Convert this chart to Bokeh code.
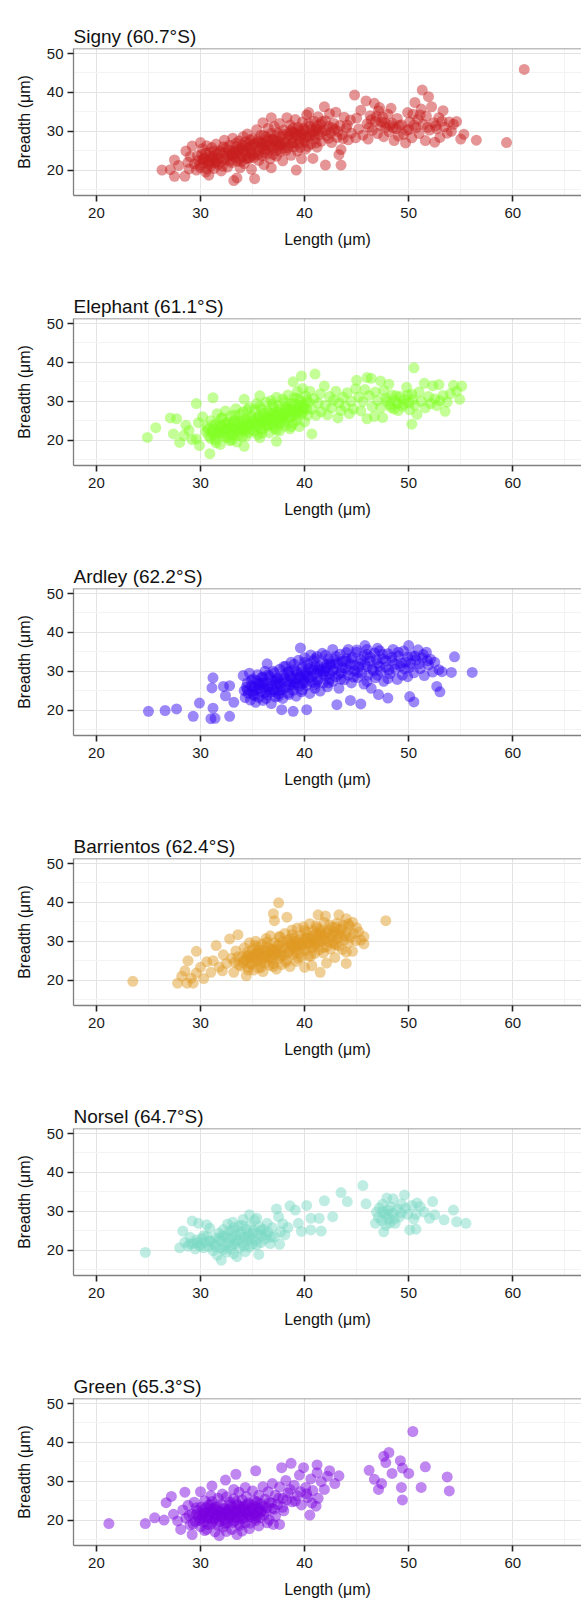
from bokeh.plotting import figure
from bokeh.layouts import column
from bokeh.models import FixedTicker, Span, ColumnDataSource, Title
from bokeh.embed import file_html
from bokeh.resources import INLINE

# ---------------- data (length, breadth) in micrometres ----------------
site_titles = ["Signy (60.7°S)", "Elephant (61.1°S)", "Ardley (62.2°S)",
               "Barrientos (62.4°S)", "Norsel (64.7°S)", "Green (65.3°S)"]
site_colors = ["#C81E1E", "#80FF20", "#2C00F2", "#E09A22", "#7AD8C4", "#7A00E0"]

x_ticks = [20, 30, 40, 50, 60]
x_minor = [15, 25, 35, 45, 55, 65]
y_ticks = [20, 30, 40, 50]
y_minor = [15, 25, 35, 45]

signy = [
    (26.3,20.0),(27.1,20.1),(27.5,22.6),(27.5,18.4),(27.9,21.2),(28.5,18.4),(28.6,24.9),(28.8,22.0),(28.9,20.3),(29.2,26.2),(29.0,23.5),(29.4,21.6),
    (29.6,20.0),(29.8,22.5),(30.0,27.1),(30.0,20.6),(30.1,24.0),(30.2,25.5),(30.3,21.8),(30.4,23.1),(30.5,19.5),(30.6,26.3),(30.7,22.4),(30.8,18.7),
    (30.9,24.6),(31.0,21.0),(31.1,25.8),(31.2,23.5),(31.3,20.4),(31.4,22.8),(31.5,26.7),(31.6,24.2),(31.7,21.5),(31.8,23.0),(31.9,25.1),(32.0,22.1),(32.0,19.8),
    (29.9,21.2),(30.3,22.9),(30.6,20.3),(31.0,23.6),(31.4,21.9),(29.7,23.7),(30.9,22.0),
    (32.2,24.5),(32.3,27.7),(32.4,22.6),(32.5,25.8),(32.6,20.8),(32.7,23.6),(32.8,26.4),(32.9,24.0),(33.0,21.9),(33.1,28.2),(33.2,17.3),(33.2,25.0),
    (33.3,23.1),(33.4,26.9),(33.5,18.0),(33.5,22.3),(33.6,24.7),(33.7,27.5),(33.8,20.6),(33.9,25.6),(34.0,23.4),(34.1,28.6),(34.2,21.7),(34.3,26.1),
    (34.4,24.2),(34.5,29.3),(34.6,22.9),(34.7,27.0),(34.8,25.3),(34.9,20.2),(35.0,28.1),(35.0,23.8),
    (33.1,23.9),(33.6,25.2),(34.0,26.5),(34.4,23.0),(34.8,27.8),(33.4,24.3),(34.2,25.1),(34.9,26.2),
    (35.1,26.6),(35.2,17.8),(35.3,24.6),(35.4,30.4),(35.5,27.8),(35.6,22.5),(35.7,25.9),(35.8,29.0),(35.9,23.7),(36.0,32.2),(36.0,27.0),(36.1,21.4),
    (36.2,25.2),(36.3,28.5),(36.4,24.1),(36.5,30.8),(36.6,26.6),(36.7,22.9),(36.8,33.5),(36.8,20.6),(36.9,28.0),(37.0,25.6),(37.1,31.2),(37.2,27.3),
    (37.3,23.6),(37.4,29.6),(37.5,26.1),(37.6,32.0),(37.7,24.8),(37.8,28.7),(37.9,22.4),(38.0,30.3),
    (35.6,27.3),(36.1,28.9),(36.6,25.4),(37.0,27.9),(37.4,26.6),(37.8,27.0),(35.9,26.1),(36.8,29.4),
    (38.1,27.2),(38.2,25.0),(38.3,33.5),(38.4,29.3),(38.5,26.4),(38.6,31.6),(38.7,23.8),(38.8,28.4),(38.9,30.9),(39.0,26.0),(39.1,33.0),(39.2,20.0),
    (39.2,28.9),(39.3,24.9),(39.4,31.0),(39.5,27.4),(39.6,29.8),(39.7,22.9),(39.8,32.4),(39.9,27.9),(40.0,30.2),(40.1,25.4),(40.2,34.2),(40.3,28.6),
    (40.4,34.8),(40.5,31.3),(40.6,26.7),(40.7,29.5),(40.8,23.0),(40.9,32.6),(41.0,28.0),(41.1,30.7),(41.2,25.9),(41.3,33.7),(41.4,29.1),(41.5,31.8),
    (38.5,28.8),(39.0,29.6),(39.5,30.4),(40.0,27.2),(40.5,28.9),(41.0,30.0),(38.8,26.9),(39.8,29.3),
    (41.6,27.4),(41.7,30.0),(41.9,36.3),(42.0,21.3),(42.0,32.7),(42.1,28.8),(42.3,31.2),(42.4,34.5),(42.5,29.6),(42.6,27.1),(42.8,32.0),(42.9,30.4),
    (43.0,34.9),(43.1,28.4),(43.3,24.0),(43.4,31.5),(43.5,21.3),(43.5,25.3),(43.6,29.1),(43.8,33.6),(44.0,30.8),(44.2,27.8),(44.4,32.9),(44.5,29.5),
    (44.8,39.3),(44.9,28.3),(45.0,33.4),(45.2,30.6),(45.4,35.4),(45.6,29.0),(45.9,37.8),(46.0,31.9),(46.1,28.0),(46.3,34.0),(46.5,30.2),(46.7,37.2),
    (46.8,32.6),(47.0,29.4),(47.1,35.3),(47.2,36.1),(47.3,31.4),(47.5,33.6),(47.6,28.6),(47.8,31.0),(48.0,34.4),(48.1,29.9),(48.3,35.9),(48.4,32.1),
    (48.6,27.6),(48.8,30.7),(48.9,33.3),(49.0,28.8),(46.4,33.0),(47.4,32.4),(48.2,31.5),
    (49.3,31.7),(49.5,29.2),(49.7,27.0),(49.9,34.8),(50.0,30.5),(50.1,32.4),(50.3,28.3),(50.4,34.4),(50.6,37.4),(50.7,30.9),(50.9,33.1),(51.0,29.4),
    (51.2,35.7),(51.3,40.6),(51.4,31.8),(51.6,27.6),(51.7,33.9),(51.9,38.9),(52.0,30.3),(52.2,36.3),(52.4,32.2),(52.5,27.2),(52.7,30.6),(52.9,33.5),
    (53.0,28.4),(53.3,35.3),(53.4,31.1),(53.7,29.5),(53.9,32.4),(54.1,30.0),(54.3,31.8),(54.6,32.5),(55.0,28.0),(55.3,29.2),(56.5,27.7),(59.4,27.1),(61.1,45.9),
] + [
    (30.2,22.7),(30.5,24.4),(30.8,21.5),(31.1,23.0),(31.5,22.1),(31.9,24.6),(32.1,21.0),(32.4,23.3),(32.7,25.2),(32.9,22.4),(33.2,24.6),(33.5,26.1),
    (33.8,23.0),(34.1,24.8),(34.3,27.3),(34.6,25.7),(34.9,24.4),(35.1,23.2),(35.3,27.0),(35.6,25.0),(35.8,26.9),(36.1,24.6),(36.3,26.4),(36.5,28.0),
    (36.8,26.1),(37.0,24.0),(37.2,28.8),(37.5,27.4),(37.7,26.4),(37.9,29.3),(38.2,27.9),(38.4,25.8),(38.7,30.2),(38.9,27.1),(39.1,29.2),(39.4,26.8),
    (39.6,28.4),(39.9,30.8),(40.1,28.5),(40.3,26.1),(40.6,30.4),(40.9,29.0),(41.1,27.0),(41.4,30.3),(41.7,32.5),(42.0,30.2),(42.3,28.2),(42.7,30.9),
    (43.2,30.0),(43.7,28.1),(44.1,31.6),(46.2,31.0),(46.9,33.8),(47.7,32.2),(48.5,30.9),(49.1,31.5),(49.8,30.2),(50.5,31.6),(51.1,34.2),(51.8,31.0),
    (52.6,31.4),(53.2,32.6),(31.3,24.9),(32.2,26.0),(33.0,23.8),(33.9,22.2),(34.7,23.2),(35.5,23.9),(36.4,27.4),(37.3,25.0),(38.0,25.6),(38.8,29.8),
    (39.6,25.8),(40.4,32.1),(41.2,31.4),
]

elephant = [
    (24.9,20.7),(25.7,23.2),(27.1,25.7),(27.7,25.5),(27.4,21.6),(28.0,19.4),(28.4,21.2),(28.6,23.8),(28.9,22.5),(29.2,20.1),(29.6,29.4),(29.6,20.3),
    (29.9,18.6),(29.8,24.5),(30.2,26.0),(30.5,22.2),
    (30.6,23.5),(30.8,21.0),(30.9,16.5),(31.0,25.0),(31.2,30.9),(31.2,22.6),(31.4,20.0),(31.5,24.2),(31.6,26.8),(31.8,21.8),(31.9,18.9),(32.0,23.4),
    (32.1,25.7),(32.3,20.9),(32.4,27.5),(32.5,22.7),(32.6,24.6),(32.8,19.9),(32.9,26.2),(33.0,23.0),(33.1,21.4),(33.3,25.1),(33.4,28.1),(33.5,19.5),
    (33.5,23.8),(33.7,22.2),(33.8,26.7),(33.9,24.4),(34.0,20.9),(34.1,27.3),(34.2,30.5),(34.2,18.4),(34.3,23.1),(34.4,25.5),(34.6,21.9),(34.7,28.4),
    (34.8,24.0),(34.9,26.3),(35.0,22.6),
    (31.1,22.0),(31.7,23.1),(32.2,22.0),(32.7,23.9),(33.2,22.6),(33.6,24.9),(34.1,22.7),(34.5,24.7),(31.3,23.9),(32.4,24.3),(33.0,21.5),(34.0,23.7),
    (35.1,25.0),(35.2,27.8),(35.3,23.5),(35.4,29.4),(35.5,21.4),(35.6,26.2),(35.7,20.6),(35.7,31.4),(35.8,24.3),(35.9,28.0),(36.0,22.8),(36.1,26.9),
    (36.2,25.2),(36.3,29.8),(36.4,23.7),(36.5,27.4),(36.6,21.9),(36.7,25.8),(36.8,30.2),(36.9,24.5),(37.0,28.5),(37.1,23.0),(37.2,26.6),(37.3,19.7),
    (37.3,31.0),(37.4,25.4),(37.5,28.9),(37.6,22.4),(37.7,27.0),(37.8,24.9),(37.9,30.6),(38.0,26.2),(38.1,23.6),(38.2,28.3),(38.3,25.6),(38.4,31.6),
    (38.5,27.5),(38.6,22.9),(38.7,29.4),(38.8,26.0),(38.9,35.0),(38.9,24.3),(39.0,30.9),(39.1,27.8),(39.2,25.1),(39.3,32.5),(39.4,28.6),(39.5,23.5),
    (39.6,30.1),(39.7,36.5),(39.7,26.7),(39.8,33.3),(39.9,29.1),(40.0,24.7),(40.1,31.4),(40.2,27.9),
    (35.5,25.8),(36.0,24.6),(36.4,26.0),(36.9,26.7),(37.4,27.3),(37.9,25.8),(38.3,27.9),(38.8,28.0),(39.3,27.0),(39.8,28.0),(36.6,23.9),(37.6,24.1),
    (40.4,29.8),(40.5,32.6),(40.7,21.6),(40.7,28.0),(40.9,30.7),(41.0,37.0),(41.1,26.4),(41.3,29.5),(41.5,31.9),(41.6,27.3),(41.9,33.9),(42.0,29.0),
    (42.2,26.5),(42.4,31.2),(42.6,28.3),(42.8,30.3),(43.0,32.6),(43.2,25.7),(43.3,29.6),(43.5,27.6),(43.7,31.0),(43.9,28.7),(44.1,32.2),(44.3,26.8),
    (44.5,30.0),(44.7,28.0),(44.9,33.2),
    (45.0,35.4),(45.2,31.1),(45.4,27.5),(45.6,29.9),(45.8,33.0),(46.0,36.1),(46.0,25.5),(46.2,31.5),(46.4,35.9),(46.5,28.6),(46.7,26.1),(46.8,32.4),
    (47.0,30.2),(47.3,35.2),(47.3,28.3),(47.5,25.8),(47.6,32.7),(47.8,30.8),(48.1,34.4),(48.2,29.1),(48.4,31.6),(48.6,28.0),(48.7,30.2),(48.9,29.4),
    (49.0,27.6),(49.2,31.2),(49.4,28.7),(49.6,30.4),(49.8,33.6),(50.0,29.6),
    (50.1,27.8),(50.3,24.1),(50.3,31.8),(50.5,38.6),(50.6,29.0),(50.8,26.6),(51.0,32.4),(51.2,30.0),(51.5,34.6),(51.6,28.3),(51.9,31.2),(52.1,29.4),
    (52.3,34.0),(52.5,30.6),(52.7,28.9),(52.9,34.3),(53.0,30.1),(53.3,31.5),(53.5,27.4),(53.7,29.8),(54.0,31.9),(54.3,34.1),(54.6,32.6),(54.9,30.5),(55.1,33.9),
] + [
    (30.7,22.8),(31.0,20.4),(31.3,21.2),(31.6,22.0),(31.9,23.9),(32.1,21.5),(32.4,22.9),(32.6,20.6),(32.9,23.3),(33.1,24.6),(33.4,22.1),(33.6,21.2),
    (33.9,23.2),(34.1,25.0),(34.3,22.4),(34.6,23.5),(34.8,25.6),(35.0,23.9),(35.2,22.3),(35.4,24.4),(35.6,25.4),(35.8,23.0),(36.0,26.0),(36.2,24.0),
    (36.4,25.0),(36.6,27.0),(36.8,25.6),(37.0,23.8),(37.2,25.0),(37.4,26.4),(37.6,27.9),(37.8,26.2),(38.0,24.6),(38.2,26.9),(38.4,28.6),(38.6,25.9),
    (38.8,27.3),(39.0,29.4),(39.2,26.3),(39.4,27.4),(39.6,29.0),(39.8,27.2),(40.0,28.5),(40.2,30.2),(32.0,25.6),(33.3,26.4),(34.5,27.8),(35.7,28.6),
    (36.9,29.2),(38.1,29.8),(39.3,30.8),(31.5,19.3),(33.0,20.0),(34.4,21.0),(35.9,21.8),(37.3,22.6),(38.7,23.5),(40.3,26.4),(47.9,30.0),(48.8,31.4),
    (49.5,29.3),(50.4,30.4),(48.3,28.4),(49.9,31.6),
]

ardley = [
    (25.0,19.7),(26.6,19.9),(27.7,20.3),(29.3,18.4),(29.9,21.8),(31.0,17.8),(31.4,17.9),(31.2,20.5),(32.8,18.4),(33.2,22.0),(31.2,28.3),(31.1,25.7),
    (32.2,26.1),(32.4,23.7),(32.8,26.3),
    (34.1,28.9),(34.2,25.0),(34.3,23.2),(34.5,27.0),(34.6,24.3),(34.7,29.5),(34.8,22.6),(34.9,26.2),(35.0,28.0),(35.1,24.0),(35.2,25.9),(35.3,22.0),
    (35.4,27.6),(35.5,29.1),(35.6,23.3),(35.7,26.5),(35.8,24.8),(35.9,28.4),(36.0,22.5),(36.1,25.7),(36.2,30.0),(36.3,27.2),(36.4,31.9),(36.4,23.9),
    (36.5,26.0),(36.6,28.7),(36.7,24.6),(36.8,21.7),(36.9,27.7),(37.0,25.3),(37.1,29.6),(37.2,23.4),(37.3,26.8),(37.4,28.2),(37.5,24.2),(37.6,30.5),
    (37.7,26.1),(37.8,20.1),(37.8,27.9),(37.9,23.0),(38.0,29.0),
    (34.4,25.9),(35.0,24.9),(35.5,26.8),(36.0,26.9),(36.6,25.4),(37.2,27.4),(37.6,25.1),(35.3,25.1),
    (38.1,25.7),(38.2,31.3),(38.3,27.3),(38.4,24.4),(38.5,29.8),(38.6,26.6),(38.7,32.3),(38.8,28.1),(38.9,19.7),(38.9,25.1),(39.0,30.4),(39.1,27.0),
    (39.2,23.6),(39.3,29.2),(39.4,32.8),(39.5,26.2),(39.6,36.0),(39.6,28.6),(39.7,24.7),(39.8,31.0),(39.9,27.6),(40.0,33.5),(40.1,29.7),(40.2,20.1),
    (40.2,26.4),(40.3,31.8),(40.4,28.3),(40.5,24.3),(40.6,34.2),(40.7,30.1),(40.8,27.1),(40.9,32.7),(41.0,25.6),(41.1,29.4),(41.2,33.8),(41.3,27.9),
    (41.4,31.2),(41.5,24.9),(41.6,29.9),(41.7,34.6),(41.8,27.0),(41.9,32.0),(42.0,28.8),(42.1,30.9),(42.2,26.0),(42.3,33.2),(42.4,29.3),(42.5,31.6),
    (42.7,35.6),(42.7,27.4),(42.8,30.4),(42.9,33.0),(43.1,21.4),(43.0,28.6),
    (38.6,28.9),(39.2,28.0),(39.7,29.9),(40.3,28.9),(40.8,30.6),(41.3,30.3),(41.9,30.0),(42.4,31.9),(39.0,26.5),(40.0,27.1),
    (43.2,31.9),(43.3,25.6),(43.4,34.4),(43.5,29.6),(43.6,32.5),(43.8,27.8),(43.9,30.7),(44.0,34.8),(44.2,35.6),(44.2,29.0),(44.4,22.5),(44.4,31.8),
    (44.5,27.0),(44.6,33.6),(44.8,30.2),(45.0,34.9),(45.1,28.4),(45.2,31.1),(45.4,21.6),(45.4,33.0),(45.5,29.5),(45.7,26.7),(45.8,36.6),(45.8,31.7),
    (46.0,34.3),(46.1,29.0),(46.3,32.6),(46.4,25.6),(46.5,30.6),(46.7,34.7),(46.8,28.3),(47.0,32.0),(47.1,24.0),(47.2,35.3),(47.3,30.0),(47.5,33.2),
    (47.6,27.4),(47.8,31.0),(48.0,23.1),(48.0,34.5),
    (48.2,29.4),(48.4,32.8),(48.5,35.6),(48.7,30.5),(48.9,27.9),(49.0,33.9),(49.2,31.3),(49.4,29.0),(49.5,35.2),(49.7,32.4),(49.9,28.6),(50.0,36.6),
    (50.1,23.5),(50.1,31.0),(50.3,34.0),(50.5,22.1),(50.5,29.6),(50.7,32.9),(50.9,35.5),(51.1,30.7),(51.3,33.4),(51.5,28.9),(51.7,34.9),(51.9,31.6),
    (52.1,33.1),(52.3,29.8),(52.5,32.3),(52.7,26.1),(52.9,30.4),(53.0,24.7),(53.2,29.9),(54.1,29.7),(54.4,33.7),(56.1,29.7),
] + [
    (34.5,25.2),(34.9,27.6),(35.2,23.7),(35.6,25.6),(35.9,27.1),(36.2,24.4),(36.5,29.1),(36.8,26.3),(37.1,24.8),(37.3,27.9),(37.6,26.9),(37.9,25.4),
    (38.1,28.3),(38.4,29.9),(38.7,27.3),(38.9,26.2),(39.2,30.0),(39.5,28.4),(39.8,26.9),(40.1,29.0),(40.4,30.7),(40.7,28.6),(41.0,31.4),(41.2,27.4),
    (41.5,30.5),(41.8,29.3),(42.1,31.7),(42.4,28.0),(42.7,30.1),(43.0,32.0),(43.3,29.2),(43.6,30.9),(43.9,32.6),(44.2,30.4),(44.5,33.1),(44.8,31.5),
    (45.1,29.7),(45.4,32.1),(45.7,34.0),(46.0,31.2),(46.3,33.6),(46.6,30.1),(46.9,33.0),(47.2,31.3),(47.5,34.4),(47.8,32.7),(48.1,30.4),(48.4,33.6),
    (48.7,31.8),(49.0,34.9),(49.3,32.1),(49.6,30.6),(49.9,33.7),(50.2,32.0),(50.6,33.9),(51.0,31.9),(51.4,34.3),(51.8,32.7),(36.0,28.5),(37.0,30.0),
    (38.0,31.2),(39.0,31.8),(40.0,32.3),(41.0,33.2),(42.0,34.1),(43.0,33.8),(44.0,33.2),(45.0,35.5),(46.0,35.6),(47.0,35.9),(36.3,23.0),(37.5,23.6),
    (38.5,24.0),(39.8,25.2),(41.0,26.6),(42.3,27.0),(43.5,28.0),(44.7,28.5),(46.0,27.4),(47.0,29.0),(48.0,28.1),
]

barrientos = [
    (23.5,19.7),(27.8,19.2),(28.7,19.2),(29.3,19.2),(28.5,22.4),(28.2,21.0),(28.8,25.0),(29.1,20.5),(29.6,27.4),(29.6,21.8),(30.0,23.3),(30.3,20.4),
    (30.6,24.7),(31.0,22.0),(31.5,28.9),(31.2,25.0),(31.8,23.4),(32.1,22.4),(32.2,26.5),(32.5,24.3),(32.8,30.6),(33.2,22.0),(33.0,25.6),(33.4,27.5),
    (33.6,31.7),(33.7,23.9),
    (34.0,26.0),(34.1,24.5),(34.2,28.3),(34.4,21.1),(34.4,25.4),(34.5,27.2),(34.6,23.3),(34.7,29.6),(34.8,25.9),(34.9,24.1),(35.0,27.9),(35.1,22.6),
    (35.2,26.6),(35.3,30.0),(35.4,24.8),(35.5,28.5),(35.6,23.1),(35.7,26.9),(35.8,25.3),(35.9,29.3),(36.0,22.2),(36.0,27.6),(36.2,24.5),(36.3,30.7),
    (36.4,26.3),(36.5,28.4),(36.6,23.8),(36.7,31.4),(36.8,25.7),(36.9,27.8),(37.0,37.1),(37.0,24.2),(37.1,35.3),(37.1,29.6),(37.2,26.7),(37.3,22.8),
    (37.4,28.9),(37.5,39.9),(37.5,25.5),(37.6,31.0),(37.7,27.2),(37.8,24.0),(37.9,29.9),(38.0,26.4),
    (34.6,26.4),(35.1,25.6),(35.6,27.6),(36.1,25.9),(36.6,27.0),(37.1,27.8),(37.6,26.4),(35.4,26.9),(36.3,28.7),
    (38.1,32.0),(38.2,28.3),(38.3,36.2),(38.3,25.1),(38.4,30.3),(38.5,27.4),(38.6,23.5),(38.7,29.1),(38.8,32.9),(38.9,26.6),(39.0,30.8),(39.1,28.0),
    (39.2,24.8),(39.3,33.4),(39.4,29.7),(39.5,27.0),(39.6,31.5),(39.7,25.9),(39.8,28.8),(39.9,33.7),(40.0,23.3),(40.0,30.3),(40.1,27.6),(40.2,32.3),
    (40.3,29.2),(40.4,26.2),(40.5,34.5),(40.6,30.9),(40.7,23.7),(40.7,28.4),(40.8,32.7),(40.9,30.0),(41.0,26.9),(41.1,34.0),(41.2,29.5),(41.3,36.8),
    (41.3,31.6),(41.4,27.8),(41.5,22.0),(41.5,33.0),(41.6,29.9),(41.7,31.3),(41.8,27.0),(41.9,34.8),(42.0,36.5),(42.0,30.6),(42.1,24.4),(42.1,28.6),
    (38.6,30.6),(39.1,29.3),(39.6,29.0),(40.1,30.9),(40.6,29.6),(41.1,31.9),(41.6,32.4),(38.9,28.4),
    (42.2,32.4),(42.3,30.0),(42.4,34.2),(42.5,28.0),(42.6,31.5),(42.7,33.6),(42.8,29.4),(42.9,25.8),(43.0,32.0),(43.1,34.6),(43.2,30.6),(43.3,36.8),
    (43.3,28.8),(43.4,33.0),(43.5,31.3),(43.6,27.9),(43.7,34.2),(43.8,30.3),(44.0,35.8),(44.0,27.2),(44.0,24.3),(44.1,32.3),(44.2,29.6),(44.3,33.9),
    (44.4,31.0),(44.6,34.9),(44.6,27.4),(44.7,32.0),(44.9,30.1),(45.0,33.5),(45.2,32.4),(45.4,30.3),(45.7,31.2),(45.7,29.3),(47.8,35.3),
] + [
    (33.3,24.6),(33.6,26.0),(33.9,23.6),(34.2,25.1),(34.5,26.2),(34.8,24.3),(35.0,26.3),(35.3,25.4),(35.5,27.2),(35.8,24.6),(36.0,26.0),(36.3,27.2),
    (36.5,25.6),(36.8,28.0),(37.0,26.6),(37.3,27.8),(37.5,29.1),(37.8,26.3),(38.0,28.4),(38.3,29.4),(38.5,27.0),(38.8,28.8),(39.0,30.0),(39.3,28.6),
    (39.5,30.5),(39.8,29.5),(40.0,28.0),(40.3,30.9),(40.5,29.9),(40.8,31.4),(41.0,29.2),(41.3,30.5),(41.5,32.1),(41.8,30.2),(42.0,31.9),(42.3,32.9),
    (42.5,30.8),(42.8,32.4),(43.0,33.6),(43.3,31.8),(43.6,33.2),(43.9,31.4),(44.2,34.5),(35.2,28.9),(36.4,29.8),(37.6,31.3),(38.8,31.7),(40.0,32.8),
    (41.2,33.5),(34.6,22.6),(35.8,23.3),(37.0,23.5),(38.2,24.6),(39.4,25.6),(40.6,26.2),(41.8,28.4),(43.0,29.1),(36.9,25.2),(39.1,27.2),(40.9,28.4),
    (42.7,29.8),
]

norsel = [
    (24.7,19.4),(28.0,20.6),(28.3,24.9),(28.5,22.0),(28.8,21.0),(29.0,23.3),(29.2,27.5),(29.3,21.7),(29.5,20.3),(29.6,22.6),(29.8,26.9),(29.9,21.3),
    (30.1,22.9),(30.3,20.6),(30.4,21.9),(30.6,26.5),(30.6,23.6),(30.8,20.9),(30.9,25.6),(31.0,22.3),(31.2,19.9),(31.3,21.5),(31.5,23.2),(31.6,18.7),
    (31.8,24.4),(31.9,20.6),(32.0,17.4),(32.0,22.4),(32.2,25.3),(32.3,21.0),(32.4,23.7),(32.5,19.5),(32.6,26.7),(32.7,22.0),(32.8,24.9),(32.9,20.3),
    (33.0,23.1),(33.1,27.2),(33.2,19.1),(33.2,25.8),(33.3,21.6),(33.4,23.9),(33.5,18.3),(33.6,22.6),(33.7,26.3),(33.8,20.6),(33.9,24.7),(34.0,21.9),
    (34.1,27.9),(34.2,23.3),(34.3,19.6),(34.4,25.4),(34.5,22.4),(34.6,24.2),(34.7,29.1),(34.7,20.8),(34.8,26.4),(34.9,23.0),(35.0,21.5),(35.1,25.1),
    (35.2,27.7),(35.3,22.5),(35.4,28.2),(35.5,24.1),(35.6,18.9),(35.7,26.0),(35.8,21.9),(35.9,23.6),(36.0,25.4),(36.2,22.8),(36.4,26.9),(36.5,24.6),
    (36.7,21.7),(36.9,25.8),(37.1,23.4),(37.3,30.6),(37.5,28.6),(37.6,21.5),(37.7,24.7),(37.9,26.8),(38.1,23.9),(38.4,25.8),(38.6,31.4),(39.1,30.3),
    (39.4,26.9),(39.7,24.8),(40.2,31.5),(40.6,28.2),(40.6,25.2),(41.4,28.2),(41.6,24.9),(41.9,32.7),(42.7,28.6),(43.5,34.8),(44.1,32.5),(45.6,36.6),(45.9,31.9),
    (46.8,26.9),(46.9,29.8),(47.1,28.4),(47.2,30.9),(47.4,27.6),(47.5,31.8),(47.6,24.7),(47.7,29.2),(47.8,26.4),(47.9,33.4),(48.0,30.3),(48.1,28.0),
    (48.2,27.0),(48.3,31.1),(48.5,33.2),(48.5,29.5),(48.7,26.9),(48.9,30.6),(49.1,28.5),(49.3,31.9),(49.6,34.2),(49.7,30.8),(49.9,29.2),(50.1,25.2),
    (50.3,31.5),(50.5,28.0),(50.7,25.4),(50.7,29.2),(50.8,32.1),(51.1,31.2),(51.5,29.8),(52.0,28.2),(52.3,32.5),(52.5,29.1),(53.4,27.8),(54.3,30.3),
    (54.6,27.3),(55.5,26.9),
] + [
    (29.0,21.6),(29.7,21.9),(30.3,23.7),(30.9,22.4),(31.4,20.9),(31.8,22.9),(32.2,20.1),(32.6,23.1),(33.0,21.2),(33.4,22.4),(33.8,24.0),(34.2,21.1),
    (34.6,23.6),(35.0,24.3),(35.4,21.4),(35.8,25.0),(36.3,24.0),(36.8,23.3),(33.1,24.9),(34.0,26.4),(32.1,23.6),(30.0,21.0),(48.0,29.2),(48.6,28.0),
    (47.5,29.9),(49.3,29.6),
]

green = [
    (21.2,19.1),(24.7,19.1),(25.6,20.6),(26.5,20.0),(26.7,24.5),(27.2,26.1),(27.4,21.5),(27.8,19.8),(28.1,17.6),(28.3,22.6),(28.5,27.2),(28.6,20.5),
    (28.8,23.8),(29.0,18.8),(29.2,16.3),(29.2,21.6),(29.4,24.6),(29.5,19.7),(29.7,22.5),(29.8,20.8),(30.0,27.3),(30.0,18.3),(30.1,23.4),(30.2,21.2),
    (30.3,19.5),(30.4,25.0),(30.5,22.0),(30.6,17.6),(30.7,20.4),(30.8,23.9),(30.9,21.5),(31.0,19.0),(31.1,28.8),(31.1,24.8),(31.2,22.7),(31.3,20.1),
    (31.4,17.0),(31.5,23.4),(31.6,21.1),(31.7,25.6),(31.8,16.0),(31.8,19.6),(31.9,22.2),(32.0,24.1),(32.1,20.7),(32.2,18.2),(32.3,23.0),(32.4,30.3),
    (32.4,21.6),(32.5,26.0),(32.6,19.3),(32.7,22.8),(32.8,24.6),(32.9,20.2),(33.0,17.6),(33.0,23.5),(33.1,21.4),(33.2,25.5),(33.3,19.8),(33.4,31.8),
    (33.4,22.3),(33.5,16.3),(33.5,24.0),(33.6,20.7),(33.7,27.2),(33.8,18.6),(33.9,22.9),(34.0,25.2),(34.1,21.0),(34.2,23.7),(34.3,19.3),(34.4,26.1),
    (34.5,22.0),(34.6,24.4),(34.7,17.8),(34.8,20.8),(34.9,23.2),(35.0,27.5),(35.1,21.7),(35.2,25.0),(35.3,32.7),(35.3,19.9),(35.4,23.5),(35.5,22.2),
    (35.6,26.4),(35.7,20.6),(35.8,24.2),(35.9,22.6),(36.0,28.6),(36.1,21.3),(36.2,25.4),(36.4,23.2),(36.5,27.3),(36.6,20.1),(36.8,24.5),(36.9,29.4),
    (29.6,21.4),(30.1,20.3),(30.5,23.1),(30.9,20.6),(31.2,21.8),(31.6,22.6),(32.0,21.2),(32.3,19.9),(32.7,21.5),(33.1,22.6),(33.6,21.9),(34.0,20.3),
    (34.4,21.9),(34.8,22.5),(35.2,21.2),(35.6,23.0),(31.4,20.6),(32.5,22.3),(33.3,20.7),(34.2,22.6),(30.3,21.9),(31.0,22.9),(33.8,23.6),(35.0,23.9),
    (37.0,18.9),(37.1,22.8),(37.2,26.4),(37.4,24.0),(37.6,18.9),(37.6,28.5),(37.8,33.5),(37.9,25.6),(38.0,22.4),(38.2,30.2),(38.4,27.0),(38.7,34.6),
    (38.8,24.7),(39.0,29.0),(39.3,26.3),(39.5,31.6),(39.7,23.9),(39.9,33.5),(40.1,28.4),(40.3,25.8),(40.5,21.3),(40.6,30.6),(40.8,27.6),(41.1,23.6),
    (41.2,34.2),(41.2,32.2),(41.3,25.6),(41.6,29.9),(41.9,27.9),(42.2,31.3),(42.4,32.7),(42.9,29.4),(43.3,31.4),
    (46.2,32.8),(46.7,30.5),(47.1,27.9),(47.4,29.4),(47.6,36.4),(47.8,34.8),(48.1,37.4),(48.4,32.0),(49.2,35.3),(49.3,28.4),(49.4,33.4),(49.4,25.2),
    (50.0,32.0),(50.4,42.8),(51.2,28.4),(51.6,33.7),(53.7,31.1),(53.9,27.5),
] + [
    (28.9,21.2),(29.3,19.0),(29.6,23.2),(29.9,19.9),(30.2,22.6),(30.4,20.7),(30.7,18.9),(30.8,22.1),(31.0,24.0),(31.2,19.6),(31.3,23.1),(31.5,21.4),
    (31.7,18.6),(31.9,20.9),(32.0,23.0),(32.2,21.9),(32.4,19.2),(32.6,22.0),(32.8,20.7),(32.9,23.9),(33.1,19.4),(33.3,21.8),(33.4,24.7),(33.6,22.8),
    (33.7,19.0),(33.9,21.2),(34.1,23.4),(34.3,20.6),(34.5,24.0),(34.6,21.4),(34.8,19.2),(35.0,22.9),(35.2,20.4),(35.4,24.7),(35.5,21.0),(35.8,22.0),
    (36.0,23.6),(36.3,22.1),(36.6,24.6),(36.9,23.0),(37.2,21.0),(37.5,25.6),(37.9,23.3),(38.3,25.2),(38.6,27.9),(39.1,24.9),(39.6,27.3),(40.2,26.8),
    (40.7,24.4),(31.0,26.3),(32.1,26.7),(33.2,27.9),(34.3,28.4),(30.4,17.3),(32.5,17.1),(34.0,17.2),(35.6,18.5),(36.4,19.3),
]

site_points = [signy, elephant, ardley, barrientos, norsel, green]

# ---------------- layout constants ----------------
FONT = "Liberation Sans"
X_RANGE = (17.8, 66.6)
Y_RANGE = (13.47, 51.29)


def make_panel(title, pts, color, height, bottom):
    src = ColumnDataSource(dict(length=[a for a, b in pts], breadth=[b for a, b in pts]))
    p = figure(width=581, height=height, x_range=X_RANGE, y_range=Y_RANGE,
               output_backend="svg", toolbar_location=None,
               min_border_left=73, min_border_right=0, min_border_top=48,
               min_border_bottom=bottom)
    p.outline_line_color = None
    p.background_fill_color = "white"
    p.border_fill_color = "white"

    # visible panel title, then an invisible spacer between it and the frame
    p.add_layout(Title(text=title, text_font=FONT, text_font_size="19px",
                       text_font_style="normal", text_color="#111111",
                       align="left", standoff=4), "above")
    p.add_layout(Title(text=".", text_font=FONT, text_font_size="1px",
                       text_alpha=0, text_color="white", standoff=14), "above")

    p.xaxis.ticker = FixedTicker(ticks=x_ticks, minor_ticks=x_minor)
    p.yaxis.ticker = FixedTicker(ticks=y_ticks, minor_ticks=y_minor)
    p.xaxis.axis_label = "Length (μm)"
    p.yaxis.axis_label = "Breadth (μm)"
    for ax in (p.xaxis[0], p.yaxis[0]):
        ax.axis_line_color = "#7F7F7F"
        ax.axis_line_width = 1.3
        ax.major_tick_out = 6
        ax.major_tick_in = 0
        ax.minor_tick_out = 0
        ax.minor_tick_in = 0
        ax.major_tick_line_color = "#222222"
        ax.major_tick_line_width = 1.6
        ax.major_label_text_font = FONT
        ax.major_label_text_font_size = "15px"
        ax.major_label_text_color = "#1A1A1A"
        ax.axis_label_text_font = FONT
        ax.axis_label_text_font_size = "16px"
        ax.axis_label_text_font_style = "normal"
        ax.axis_label_text_color = "#111111"
    p.xaxis.major_label_standoff = 6
    p.xaxis.axis_label_standoff = 10
    p.yaxis.major_label_standoff = 4
    p.yaxis.axis_label_standoff = 11

    for g in (p.xgrid[0], p.ygrid[0]):
        g.grid_line_color = "#E3E3E3"
        g.grid_line_width = 1
        g.minor_grid_line_color = "#F3F3F3"
        g.minor_grid_line_width = 1

    p.add_layout(Span(location=Y_RANGE[1], dimension="width",
                      line_color="#7F7F7F", line_width=1.3))

    p.scatter("length", "breadth", source=src, size=11, fill_color=color,
              fill_alpha=0.47, line_color=None)
    return p


figs = []
for i, (t, pts, c) in enumerate(zip(site_titles, site_points, site_colors)):
    last = i == len(site_titles) - 1
    figs.append(make_panel(t, pts, c, 254 if last else 270, 59 if last else 75))

layout = column(*figs, spacing=0)
open("out.html", "w").write(file_html(layout, INLINE))
